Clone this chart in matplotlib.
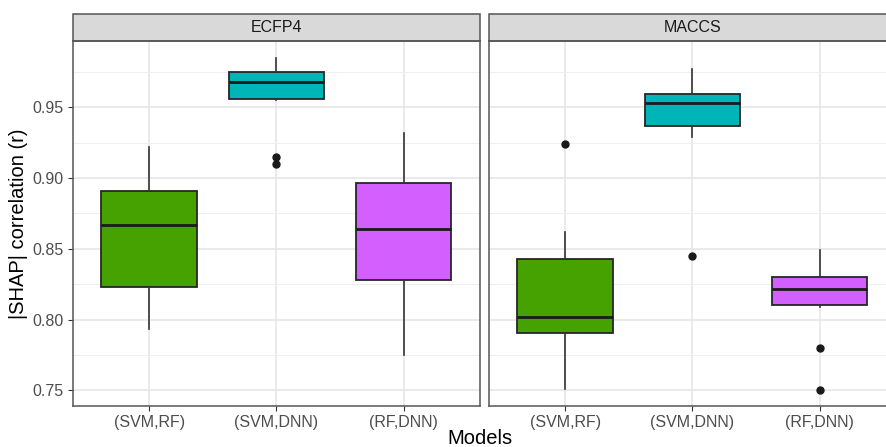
import numpy as np
import matplotlib.pyplot as plt
from matplotlib.patches import Rectangle

plt.rcParams['font.family'] = ['Liberation Sans', 'DejaVu Sans']

pairs = ["(SVM,RF)", "(SVM,DNN)", "(RF,DNN)"]
fingerprints = ["ECFP4", "MACCS"]
fills = ["#45A200", "#00B5B8", "#D35FFF"]

# box summaries per facet, one value per model pair
ecfp4_whislo = [0.793, 0.955, 0.775]
ecfp4_q1 = [0.823, 0.9556, 0.828]
ecfp4_med = [0.8666, 0.968, 0.8638]
ecfp4_q3 = [0.8906, 0.975, 0.8963]
ecfp4_whishi = [0.9217, 0.9848, 0.932]
ecfp4_out = [[], [0.915, 0.910], []]

maccs_whislo = [0.7507, 0.9292, 0.809]
maccs_q1 = [0.7907, 0.937, 0.8103]
maccs_med = [0.802, 0.953, 0.8214]
maccs_q3 = [0.843, 0.9592, 0.830]
maccs_whishi = [0.8621, 0.9768, 0.8491]
maccs_out = [[0.924], [0.8451], [0.7801, 0.750]]

facets = [
    (ecfp4_whislo, ecfp4_q1, ecfp4_med, ecfp4_q3, ecfp4_whishi, ecfp4_out),
    (maccs_whislo, maccs_q1, maccs_med, maccs_q3, maccs_whishi, maccs_out),
]

W, H = 886, 447
fig = plt.figure(figsize=(W / 100, H / 100), dpi=100)
fig.patch.set_facecolor("white")

ax_w = 407.3 / W
ax_h = 365 / H
ax_b = 41 / H
lefts = [72.7 / W, 488.7 / W]
strip_h = 27 / 365

for k, (name, data) in enumerate(zip(fingerprints, facets)):
    ax = fig.add_axes([lefts[k], ax_b, ax_w, ax_h])
    lo, q1, med, q3, hi, out = data
    stats = []
    for i in range(3):
        stats.append(dict(whislo=lo[i], q1=q1[i], med=med[i], q3=q3[i],
                          whishi=hi[i], fliers=out[i]))
    bp = ax.bxp(stats, positions=[1, 2, 3], widths=0.75, patch_artist=True,
                showcaps=False,
                boxprops=dict(edgecolor="#262626", linewidth=1.3),
                medianprops=dict(color="#1a1a1a", linewidth=2.0),
                whiskerprops=dict(color="#333333", linewidth=1.2),
                flierprops=dict(marker="o", markerfacecolor="#1a1a1a",
                                markeredgecolor="#1a1a1a", markersize=5))
    for patch, c in zip(bp["boxes"], fills):
        patch.set_facecolor(c)
        patch.set_zorder(3)
    for part in ("medians", "whiskers", "fliers"):
        for a in bp[part]:
            a.set_zorder(4)

    ax.set_xlim(0.4, 3.6)
    ax.set_ylim(0.7389, 0.9969)
    ax.set_yticks([0.75, 0.80, 0.85, 0.90, 0.95])
    ax.set_yticks([0.775, 0.825, 0.875, 0.925, 0.975], minor=True)
    ax.set_xticks([1, 2, 3])
    ax.set_xticklabels(pairs)
    ax.grid(True, which="major", color="#E6E6E6", linewidth=1.2, zorder=0)
    ax.grid(True, which="minor", axis="y", color="#EFEFEF", linewidth=0.7, zorder=0)
    ax.set_axisbelow(True)
    ax.tick_params(axis="both", which="major", length=3.5, color="#333333",
                   labelsize=11.5, labelcolor="#4D4D4D", pad=3)
    ax.tick_params(axis="both", which="minor", length=0)
    if k == 0:
        ax.set_yticklabels(["0.75", "0.80", "0.85", "0.90", "0.95"])
        ax.set_ylabel("|SHAP| correlation (r)", fontsize=14.5, color="black", labelpad=3)
    else:
        ax.set_yticklabels([])
        ax.tick_params(axis="y", length=0)
    for s in ax.spines.values():
        s.set_color("#555555")
        s.set_linewidth(1.1)

    strip = Rectangle((0, 1), 1, strip_h, transform=ax.transAxes,
                      facecolor="#D9D9D9", edgecolor="#555555", linewidth=1.1,
                      clip_on=False)
    ax.add_patch(strip)
    ax.text(0.5, 1 + strip_h / 2, name, transform=ax.transAxes, ha="center",
            va="center", fontsize=11.5, color="#1A1A1A")

fig.text(480 / W, 1 - 438 / H, "Models", ha="center", va="center",
         fontsize=14.5, color="black")

fig.savefig("out.png", dpi=100, facecolor="white")
